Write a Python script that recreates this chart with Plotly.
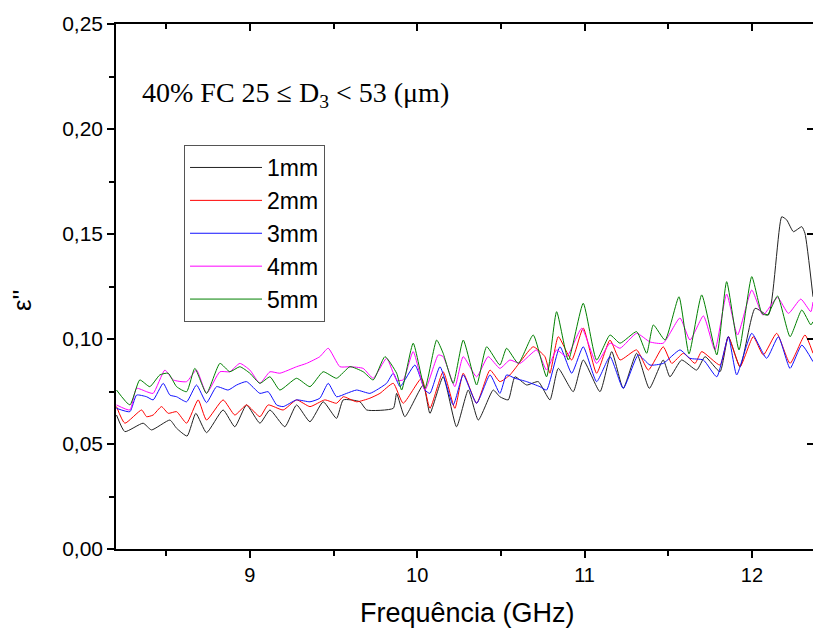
import plotly.graph_objects as go

# ---- data (frequency in GHz, epsilon'') ----
f_1mm = [8.203, 8.253, 8.362, 8.412, 8.522, 8.562, 8.625, 8.677, 8.741, 8.840, 8.910, 8.980, 9.060, 9.120,
         9.209, 9.279, 9.359, 9.438, 9.518, 9.558, 9.658, 9.698, 9.857, 9.877, 9.926, 10.036, 10.076, 10.155,
         10.235, 10.305, 10.365, 10.454, 10.494, 10.544, 10.584, 10.654, 10.723, 10.793, 10.843, 10.932,
         10.992, 11.092, 11.162, 11.231, 11.311, 11.387, 11.470, 11.510, 11.580, 11.670, 11.720, 11.809,
         11.859, 11.929, 12.019, 12.098, 12.178, 12.208, 12.248, 12.298, 12.317, 12.365]
e_1mm = [0.0638, 0.0559, 0.0599, 0.0567, 0.0614, 0.0575, 0.0538, 0.0646, 0.0554, 0.0662, 0.0582, 0.0686,
         0.0599, 0.0662, 0.0582, 0.0686, 0.0606, 0.0701, 0.0622, 0.0710, 0.0701, 0.0662, 0.0670, 0.0741,
         0.0630, 0.0781, 0.0646, 0.0820, 0.0582, 0.0757, 0.0614, 0.0757, 0.0725, 0.0710, 0.0820, 0.0781,
         0.0797, 0.0710, 0.0860, 0.0749, 0.0900, 0.0749, 0.0940, 0.0765, 0.0932, 0.0765, 0.0900, 0.0820,
         0.0900, 0.0852, 0.0916, 0.0844, 0.1011, 0.0868, 0.1146, 0.1114, 0.1582, 0.1567, 0.1511, 0.1535,
         0.1503, 0.1201]

f_2mm = [8.203, 8.253, 8.353, 8.383, 8.422, 8.472, 8.512, 8.562, 8.622, 8.691, 8.741, 8.840, 8.910, 8.980,
         9.060, 9.109, 9.199, 9.279, 9.359, 9.448, 9.518, 9.558, 9.638, 9.717, 9.777, 9.857, 9.916, 10.026,
         10.076, 10.155, 10.225, 10.275, 10.355, 10.435, 10.494, 10.554, 10.624, 10.693, 10.763, 10.793,
         10.843, 10.923, 10.992, 11.072, 11.152, 11.212, 11.311, 11.381, 11.470, 11.521, 11.590, 11.660,
         11.700, 11.809, 11.859, 11.929, 12.008, 12.068, 12.148, 12.228, 12.317, 12.365]
e_2mm = [0.0678, 0.0599, 0.0662, 0.0630, 0.0638, 0.0678, 0.0646, 0.0654, 0.0599, 0.0710, 0.0614, 0.0710,
         0.0638, 0.0686, 0.0630, 0.0686, 0.0662, 0.0710, 0.0678, 0.0710, 0.0694, 0.0725, 0.0701, 0.0718,
         0.0741, 0.0789, 0.0694, 0.0813, 0.0670, 0.0844, 0.0670, 0.0837, 0.0694, 0.0852, 0.0797, 0.0829,
         0.0900, 0.0963, 0.0916, 0.0837, 0.1011, 0.0900, 0.1052, 0.0837, 0.0995, 0.0900, 0.0948, 0.0852,
         0.0963, 0.0884, 0.0932, 0.0884, 0.0940, 0.0876, 0.1011, 0.0868, 0.1011, 0.0924, 0.1027, 0.0884,
         0.1019, 0.0932]

f_3mm = [8.203, 8.283, 8.323, 8.383, 8.422, 8.482, 8.522, 8.562, 8.622, 8.681, 8.741, 8.801, 8.870, 8.921,
         8.980, 9.060, 9.109, 9.160, 9.199, 9.279, 9.359, 9.418, 9.468, 9.518, 9.578, 9.638, 9.717, 9.757,
         9.817, 9.857, 9.897, 9.986, 10.046, 10.076, 10.136, 10.215, 10.275, 10.355, 10.435, 10.494, 10.534,
         10.584, 10.654, 10.733, 10.773, 10.853, 10.923, 10.992, 11.072, 11.152, 11.231, 11.321, 11.391,
         11.470, 11.570, 11.630, 11.710, 11.790, 11.859, 11.909, 11.999, 12.088, 12.158, 12.228, 12.298,
         12.365]
e_3mm = [0.0670, 0.0654, 0.0733, 0.0725, 0.0710, 0.0789, 0.0733, 0.0725, 0.0701, 0.0781, 0.0697, 0.0773,
         0.0757, 0.0781, 0.0797, 0.0741, 0.0749, 0.0686, 0.0678, 0.0710, 0.0701, 0.0718, 0.0789, 0.0725,
         0.0741, 0.0757, 0.0741, 0.0757, 0.0789, 0.0837, 0.0773, 0.0876, 0.0757, 0.0741, 0.0868, 0.0686,
         0.0829, 0.0694, 0.0829, 0.0741, 0.0829, 0.0813, 0.0797, 0.0773, 0.0757, 0.0963, 0.0837, 0.0963,
         0.0797, 0.0916, 0.0765, 0.0924, 0.0876, 0.0884, 0.0948, 0.0908, 0.0900, 0.0820, 0.1011, 0.0829,
         0.1027, 0.0908, 0.1011, 0.0860, 0.0971, 0.0892]

f_4mm = [8.203, 8.283, 8.323, 8.383, 8.422, 8.492, 8.542, 8.622, 8.681, 8.741, 8.821, 8.880, 8.940, 9.000,
         9.060, 9.120, 9.179, 9.279, 9.339, 9.418, 9.468, 9.538, 9.598, 9.677, 9.737, 9.817, 9.877, 9.916,
         9.976, 10.046, 10.126, 10.155, 10.225, 10.275, 10.355, 10.424, 10.494, 10.554, 10.614, 10.714,
         10.773, 10.833, 10.893, 10.983, 11.072, 11.152, 11.212, 11.311, 11.391, 11.470, 11.570, 11.630,
         11.710, 11.779, 11.849, 11.914, 11.999, 12.066, 12.153, 12.218, 12.292, 12.352, 12.365]
e_4mm = [0.0686, 0.0662, 0.0765, 0.0749, 0.0741, 0.0852, 0.0805, 0.0797, 0.0852, 0.0741, 0.0844, 0.0844,
         0.0884, 0.0852, 0.0789, 0.0844, 0.0837, 0.0868, 0.0884, 0.0916, 0.0956, 0.0868, 0.0868, 0.0860,
         0.0813, 0.0908, 0.0805, 0.0805, 0.0940, 0.0757, 0.0924, 0.0916, 0.0773, 0.0916, 0.0820, 0.0916,
         0.0860, 0.0900, 0.0884, 0.0948, 0.0852, 0.0948, 0.0916, 0.1051, 0.0884, 0.0980, 0.0956, 0.1027,
         0.0986, 0.0980, 0.1100, 0.0995, 0.1110, 0.0948, 0.1214, 0.1019, 0.1233, 0.1114, 0.1198, 0.1122,
         0.1190, 0.1130, 0.1176]

f_5mm = [8.203, 8.283, 8.342, 8.402, 8.462, 8.512, 8.562, 8.622, 8.671, 8.741, 8.821, 8.880, 8.940, 9.000,
         9.060, 9.120, 9.179, 9.279, 9.359, 9.438, 9.518, 9.598, 9.677, 9.737, 9.807, 9.877, 9.907, 9.976,
         10.046, 10.116, 10.155, 10.215, 10.275, 10.355, 10.415, 10.494, 10.534, 10.604, 10.693, 10.773,
         10.833, 10.903, 10.992, 11.072, 11.152, 11.212, 11.311, 11.371, 11.411, 11.481, 11.564, 11.624,
         11.700, 11.790, 11.849, 11.923, 11.999, 12.060, 12.093, 12.153, 12.228, 12.298, 12.352, 12.365]
e_5mm = [0.0757, 0.0686, 0.0805, 0.0773, 0.0829, 0.0837, 0.0773, 0.0749, 0.0860, 0.0741, 0.0884, 0.0844,
         0.0868, 0.0837, 0.0789, 0.0820, 0.0757, 0.0813, 0.0773, 0.0844, 0.0813, 0.0868, 0.0844, 0.0805,
         0.0916, 0.0837, 0.0757, 0.0980, 0.0765, 0.0995, 0.0932, 0.0789, 0.0995, 0.0781, 0.0963, 0.0876,
         0.0956, 0.0884, 0.1019, 0.0820, 0.1130, 0.0900, 0.1170, 0.0900, 0.1019, 0.0980, 0.1035, 0.0932,
         0.1067, 0.0995, 0.1201, 0.0929, 0.1210, 0.0924, 0.1273, 0.0948, 0.1297, 0.1122, 0.1114, 0.1205,
         0.1011, 0.1138, 0.1067, 0.1082]

series_names = ["1mm", "2mm", "3mm", "4mm", "5mm"]
series_colors = ["#222222", "#ff0000", "#1010ff", "#ff00ff", "#008000"]
x_ticks = [9, 10, 11, 12]
x_minor = [8.5, 9.5, 10.5, 11.5]
y_ticks = [0.00, 0.05, 0.10, 0.15, 0.20, 0.25]
y_ticktext = ["0,00", "0,05", "0,10", "0,15", "0,20", "0,25"]
y_minor = [0.025, 0.075, 0.125, 0.175, 0.225]

xs = [f_1mm, f_2mm, f_3mm, f_4mm, f_5mm]
ys = [e_1mm, e_2mm, e_3mm, e_4mm, e_5mm]

fig = go.Figure()
for name, color, x, y in zip(series_names, series_colors, xs, ys):
    fig.add_trace(go.Scatter(x=x, y=y, mode="lines", name=name,
                             line=dict(color=color, width=1, shape="spline", smoothing=0.5)))

# empty trace that activates the mirrored (top/right) axes
fig.add_trace(go.Scatter(x=[None], y=[None], xaxis="x2", yaxis="y2", showlegend=False,
                         hoverinfo="skip"))

XR = [8.2, 12.365]
YR = [0, 0.25]
SANS = "Liberation Sans, Arial, sans-serif"

fig.update_layout(
    width=813, height=630,
    margin=dict(l=116, r=0, t=24, b=81, autoexpand=False),
    paper_bgcolor="white", plot_bgcolor="white",
    font=dict(family=SANS, color="black"),
    xaxis=dict(range=XR, tickvals=x_ticks, ticks="outside", ticklen=7, tickwidth=1.5,
               tickcolor="black", showline=True, linecolor="black", linewidth=1.5,
               showgrid=False, zeroline=False, automargin=False,
               tickfont=dict(family=SANS, size=20, color="black"),
               minor=dict(tickvals=x_minor, ticks="outside", ticklen=5,
                          tickwidth=1.5, tickcolor="black")),
    yaxis=dict(range=YR, tickvals=y_ticks, ticktext=y_ticktext, ticks="outside", ticklen=7,
               tickwidth=1.5, tickcolor="black", showline=True, linecolor="black", linewidth=1.5,
               showgrid=False, zeroline=False, automargin=False,
               tickfont=dict(family=SANS, size=21, color="black"),
               minor=dict(tickvals=y_minor, ticks="outside",
                          ticklen=5, tickwidth=1.5, tickcolor="black")),
    xaxis2=dict(range=XR, overlaying="x", side="top", anchor="y", tickvals=x_ticks,
                ticks="inside", ticklen=7, tickwidth=1.5, tickcolor="black",
                showticklabels=False, showline=True, linecolor="black", linewidth=1.5,
                showgrid=False, zeroline=False, automargin=False,
                minor=dict(tickvals=x_minor, ticks="inside", ticklen=5,
                           tickwidth=1.5, tickcolor="black")),
    yaxis2=dict(range=YR, overlaying="y", side="right", anchor="x", tickvals=y_ticks,
                ticks="inside", ticklen=6, tickwidth=1.5, tickcolor="black",
                showticklabels=False, showline=False, showgrid=False, zeroline=False,
                automargin=False),
    legend=dict(x=0.0976, y=0.7695, xanchor="left", yanchor="top",
                bordercolor="#555555", borderwidth=1, bgcolor="white",
                font=dict(family=SANS, size=23, color="black"),
                tracegroupgap=0, itemwidth=72),
    showlegend=True,
    annotations=[
        dict(text="40% FC 25 ≤ D<sub>3</sub> < 53 (μm)", x=0.034, y=0.865,
             xref="paper", yref="paper", xanchor="left", yanchor="middle", showarrow=False,
             font=dict(family="Liberation Serif, Times New Roman, serif", size=28, color="black")),
        dict(text="Frequência (GHz)", x=0.504, y=-0.122, xref="paper", yref="paper",
             xanchor="center", yanchor="middle", showarrow=False,
             font=dict(family=SANS, size=27, color="black")),
        dict(text="ε''", x=-0.135, y=0.474, xref="paper", yref="paper", textangle=-90,
             xanchor="center", yanchor="middle", showarrow=False,
             font=dict(family=SANS, size=26, color="black")),
    ],
)

fig.write_html(
    "out.html",
    config={"displayModeBar": False},
    post_script="document.body.style.margin='0';document.body.style.overflow='hidden';",
)
